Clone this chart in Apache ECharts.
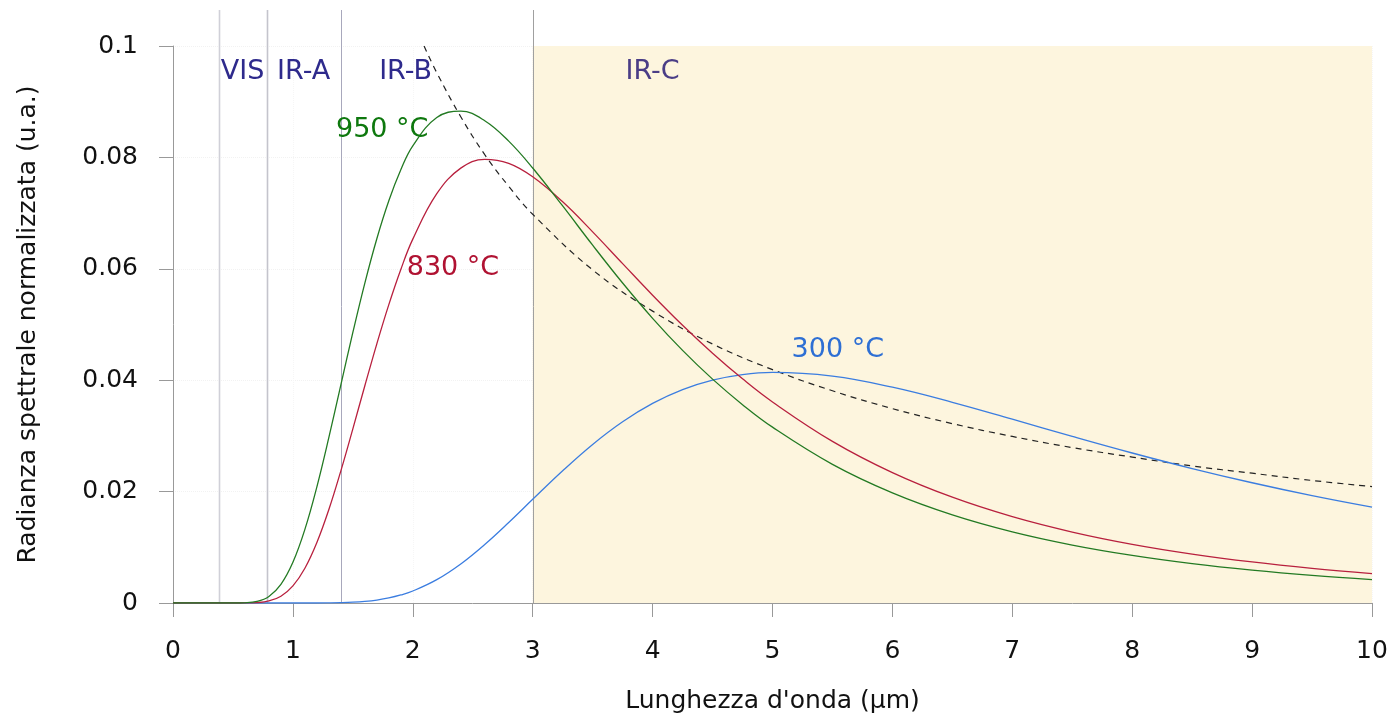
<!DOCTYPE html>
<html style="height: 100%">
<head>
    <meta charset="UTF-8">
    <title>Radianza spettrale normalizzata</title>
    <script src="https://cdn.jsdelivr.net/npm/echarts@6/dist/echarts.min.js"></script>
    <style>
        #main {
            width: 1397px;
            height: 721px;
        }
    </style>
</head>
<body style="height: 100%; margin: 0; background: #fff">
    <div id="main"></div>
    <script type="text/javascript">
        // lunghezze d'onda (µm) dei punti
        var wavelengths = [0, 0.2, 0.4, 0.5, 0.6, 0.7, 0.8, 0.9, 1.0, 1.1, 1.2, 1.3, 1.4, 1.5, 1.6, 1.7, 1.8, 1.9, 2.0,
            2.2, 2.4, 2.6, 2.8, 3.0, 3.25, 3.5, 3.75, 4.0, 4.25, 4.5, 4.75, 5.0, 5.5, 6.0, 6.5, 7.0, 7.5, 8.0, 8.5, 9.0,
            9.5, 10];

        var curve950 = [0, 0, 0, 0, 0.00004, 0.00028, 0.00118, 0.00335, 0.00731, 0.01322, 0.02086, 0.02972, 0.03917,
            0.04857, 0.05744, 0.0654, 0.07221, 0.07777, 0.08207, 0.08715, 0.08831, 0.08659, 0.08292, 0.0781, 0.07128,
            0.06424, 0.05745, 0.05111, 0.04535, 0.04019, 0.03561, 0.03157, 0.0249, 0.01978, 0.01583, 0.01278, 0.01041,
            0.00855, 0.00707, 0.0059, 0.00495, 0.00419];

        var curve830 = [0, 0, 0, 0, 0.00001, 0.00007, 0.00036, 0.00122, 0.00307, 0.00624, 0.01086, 0.01678, 0.02373,
            0.03127, 0.039, 0.04653, 0.05356, 0.05988, 0.06533, 0.07348, 0.07807, 0.07966, 0.07892, 0.07651, 0.07202,
            0.06663, 0.06093, 0.05526, 0.04986, 0.04484, 0.04024, 0.03609, 0.02902, 0.02341, 0.01899, 0.0155, 0.01274,
            0.01054, 0.00879, 0.00737, 0.00622, 0.00528];

        var curve300 = [0, 0, 0, 0, 0, 0, 0, 0, 0, 0, 0, 0.00002, 0.00006, 0.00014, 0.00029, 0.00053, 0.0009, 0.00144,
            0.00215, 0.00419, 0.00701, 0.0105, 0.01445, 0.01861, 0.02374, 0.02847, 0.03254, 0.03583, 0.03831, 0.04001,
            0.041, 0.04139, 0.04072, 0.03874, 0.03603, 0.033, 0.02991, 0.02693, 0.02414, 0.02159, 0.01928, 0.01721];

        // luogo dei massimi (tratteggiato)
        var peakX = [2.094, 2.2, 2.4, 2.6, 2.8, 3.0, 3.5, 4, 4.5, 5, 5.5, 6, 6.5, 7, 7.5, 8, 8.5, 9, 9.5, 10];
        var peakY = [0.1, 0.0952, 0.0873, 0.0805, 0.0748, 0.0698, 0.0598, 0.0524, 0.0465, 0.0419, 0.0381, 0.0349,
            0.0322, 0.0299, 0.0279, 0.0262, 0.0246, 0.0233, 0.022, 0.0209];

        // confini delle bande
        var bandEdges = [0.38, 0.78, 1.4, 3];
        var bandLabels = ['VIS', 'IR-A', 'IR-B', 'IR-C'];
        var irC = [3, 10];

        var font = 'DejaVu Sans';

        function pairs(xs, ys) {
            return xs.map(function (x, i) { return [x, ys[i]]; });
        }

        var chartDom = document.getElementById('main');
        var myChart = echarts.init(chartDom, null, { renderer: 'canvas' });

        var option = {
            animation: false,
            backgroundColor: '#fff',
            grid: { left: 173, right: 25, top: 46, bottom: 118, outerBoundsMode: 'none', containLabel: false },
            xAxis: {
                type: 'value',
                min: 0,
                max: 10,
                interval: 1,
                name: "Lunghezza d'onda (µm)",
                nameLocation: 'middle',
                nameGap: 86,
                nameTextStyle: { fontFamily: font, fontSize: 25, color: '#111' },
                axisLine: { lineStyle: { color: '#999' } },
                axisTick: { length: 14, lineStyle: { color: '#999' } },
                axisLabel: { margin: 36, fontFamily: font, fontSize: 25, color: '#111' },
                splitLine: { show: true, lineStyle: { color: '#f6f6f6', type: 'dotted' } }
            },
            yAxis: {
                type: 'value',
                min: 0,
                max: 0.1,
                interval: 0.02,
                name: 'Radianza spettrale normalizzata (u.a.)',
                nameLocation: 'middle',
                nameGap: 132,
                nameTextStyle: { fontFamily: font, fontSize: 25, color: '#111' },
                axisLine: { show: true, lineStyle: { color: '#999' } },
                axisTick: { show: true, length: 14, lineStyle: { color: '#999' } },
                axisLabel: {
                    margin: 35, fontFamily: font, fontSize: 25, color: '#111',
                    formatter: function (v) { return v === 0 ? '0' : String(+v.toFixed(2)); }
                },
                splitLine: { show: true, lineStyle: { color: '#f2f2f2', type: 'dotted' } }
            },
            series: [
                {
                    type: 'line',
                    name: 'IR-C',
                    data: [],
                    z: 1,
                    silent: true,
                    markArea: {
                        silent: true,
                        itemStyle: { color: '#fdf5de' },
                        data: [[{ coord: [irC[0], 0] }, { coord: [irC[1], 0.1] }]]
                    }
                },
                {
                    type: 'line',
                    name: 'picchi',
                    data: pairs(peakX, peakY),
                    showSymbol: false,
                    smooth: 0.4,
                    lineStyle: { color: '#222', width: 1.2, type: [6, 5] },
                    z: 3
                },
                {
                    type: 'line',
                    name: '300 °C',
                    data: pairs(wavelengths, curve300),
                    showSymbol: false,
                    smooth: 0.4,
                    lineStyle: { color: '#3b7de0', width: 1.3 },
                    z: 4
                },
                {
                    type: 'line',
                    name: '830 °C',
                    data: pairs(wavelengths, curve830),
                    showSymbol: false,
                    smooth: 0.4,
                    lineStyle: { color: '#b8203e', width: 1.3 },
                    z: 4
                },
                {
                    type: 'line',
                    name: '950 °C',
                    data: pairs(wavelengths, curve950),
                    showSymbol: false,
                    smooth: 0.4,
                    lineStyle: { color: '#237a23', width: 1.3 },
                    z: 4
                }
            ]
        };

        myChart.setOption(option);

        // linee verticali dei confini e testi, posizionati tramite gli assi
        var graphics = [];
        var bottomPx = myChart.convertToPixel({ yAxisIndex: 0 }, 0);
        var edgeColors = ['#d0d0d8', '#c4c4cc', '#a8a8bc', '#a0a0a0'];
        bandEdges.forEach(function (e, i) {
            var px = Math.round(myChart.convertToPixel({ xAxisIndex: 0 }, e)) + 0.5;
            graphics.push({
                type: 'line',
                z: 2,
                silent: true,
                shape: { x1: px, y1: 10, x2: px, y2: bottomPx },
                style: { stroke: edgeColors[i], lineWidth: i < 2 ? 1.6 : 1 }
            });
        });

        var notes = [
            { text: bandLabels[0], at: [0.58, 0.0953], color: '#2e2a8c' },
            { text: bandLabels[1], at: [1.09, 0.0953], color: '#2e2a8c' },
            { text: bandLabels[2], at: [1.94, 0.0953], color: '#2e2a8c' },
            { text: bandLabels[3], at: [4.0, 0.0953], color: '#4a3d86' },
            { text: '950 °C', at: [1.745, 0.0849], color: '#0e780e' },
            { text: '830 °C', at: [2.335, 0.0601], color: '#b01232' },
            { text: '300 °C', at: [5.545, 0.0454], color: '#2e6fd4' }
        ];
        notes.forEach(function (n) {
            var p = myChart.convertToPixel({ gridIndex: 0 }, n.at);
            graphics.push({
                type: 'text',
                z: 5,
                silent: true,
                x: p[0],
                y: p[1],
                style: {
                    text: n.text,
                    fill: n.color,
                    font: '27px "' + font + '"',
                    align: 'center',
                    verticalAlign: 'middle'
                }
            });
        });

        myChart.setOption({ graphic: graphics });
    </script>
</body>
</html>
